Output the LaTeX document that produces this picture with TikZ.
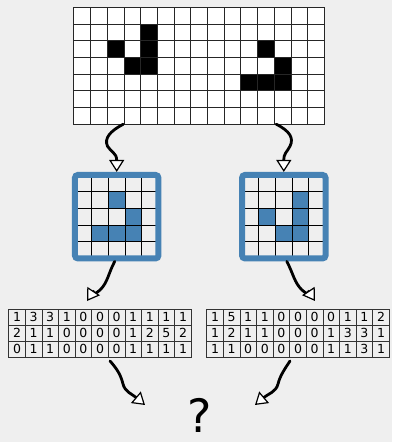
\documentclass[tikz,border=0pt]{standalone}
\usepackage{fontspec}
\usetikzlibrary{arrows.meta,matrix}
\newfontfamily\dejavu{DejaVu Sans}
\definecolor{steel}{RGB}{70,130,180}
\definecolor{paper}{RGB}{239,239,239}
\newcommand{\csize}{16.7}

\begin{document}
\begin{tikzpicture}[x=1pt,y=1pt,
  >={Triangle[length=12pt,width=15pt,fill=white,line width=1.2pt]},
  flow/.style={->,line width=2.8pt,line cap=round},
  gridline/.style={draw=black!85,line width=0.8pt},
  frame/.style={draw=steel,line width=6pt,rounded corners=3pt},
  patch/.style={minimum size=83.5pt,inner sep=0pt,outer sep=3pt},
  num/.style={draw=black!80,line width=0.7pt,minimum width=16.6pt,minimum height=16pt,
    inner sep=0pt,font=\dejavu\fontsize{12.5}{12.5}\selectfont}]
  \fill[paper] (0,0) rectangle (392,442);
  \useasboundingbox (0,0) rectangle (392,442);

  % big board with two gliders
  \node[minimum width=250.5pt,minimum height=117pt,inner sep=0pt] (board) at (199.25,376.5) {};
  \begin{scope}[shift={(board.south west)}]
    \fill[white] (0,0) rectangle (250.5,117);
    \foreach \c/\r in {4/5,2/4,4/4,3/3,4/3,11/4,12/3,10/2,11/2,12/2}
      \fill (\c*\csize,\r*\csize) rectangle +(\csize,\csize);
    \draw[gridline] (0,0) grid[step=16.7pt] (250.6,117.1);
    \draw[gridline] (0,0) rectangle (250.5,117);
  \end{scope}

  % the two 5x5 patches
  \node[patch] (lbox) at (116.7,225.3) {};
  \node[patch] (rbox) at (283.8,225.3) {};
  \foreach \b/\cells in {lbox/{2/3,3/2,1/1,2/1,3/1},rbox/{3/3,1/2,3/2,2/1,3/1}}{
    \begin{scope}[shift={(\b.center)},shift={(-41.75,-41.75)}]
      \foreach \c/\r in \cells
        \fill[steel] (\c*\csize,\r*\csize) rectangle +(\csize,\csize);
      \draw[gridline,draw=black] (0,0) grid[step=16.7pt] (83.6,83.6);
      \draw[frame] (0,0) rectangle (83.5,83.5);
    \end{scope}
  }

  % counts
  \matrix (ltab) [matrix of nodes,nodes=num,column sep=-0.7pt,row sep=-0.7pt] at (100,109) {
    1 & 3 & 3 & 1 & 0 & 0 & 0 & 1 & 1 & 1 & 1 \\
    2 & 1 & 1 & 0 & 0 & 0 & 0 & 1 & 2 & 5 & 2 \\
    0 & 1 & 1 & 0 & 0 & 0 & 0 & 1 & 1 & 1 & 1 \\
  };
  \matrix (rtab) [matrix of nodes,nodes=num,column sep=-0.7pt,row sep=-0.7pt] at (298,109) {
    1 & 5 & 1 & 1 & 0 & 0 & 0 & 0 & 1 & 1 & 2 \\
    1 & 2 & 1 & 1 & 0 & 0 & 0 & 1 & 3 & 3 & 1 \\
    1 & 1 & 0 & 0 & 0 & 0 & 0 & 1 & 1 & 3 & 1 \\
  };

  \node[font=\dejavu\fontsize{46}{46}\selectfont,inner sep=0pt] (q) at (200,27) {?};
  \coordinate (qleft) at ([shift={(-55,10)}]q.center);
  \coordinate (qright) at ([shift={(55,10)}]q.center);

  % wiggly arrows
  \draw[flow] ([xshift=-76pt]board.south) .. controls +(-13.25,-7) and +(-3.5,8) .. ++(-15.75,-22)
    .. controls +(3.5,-6) and +(0,19) .. (lbox.north);
  \draw[flow] ([xshift=77pt]board.south) .. controls +(13.75,-7) and +(4,8) .. ++(13.75,-22)
    .. controls +(-3,-6) and +(0,19) .. (rbox.north);
  \draw[flow] ([xshift=-2pt]lbox.south) .. controls +(-6.7,-12.6) and +(8,8) .. ++(-14.7,-28.6)
    .. controls +(-4,-4) and +(4,6) .. ([shift={(-13,4)}]ltab.north);
  \draw[flow] ([xshift=3pt]rbox.south) .. controls +(6.7,-12.6) and +(-8,8) .. ++(15.2,-28.6)
    .. controls +(4,-4) and +(-4,6) .. ([shift={(17,4)}]rtab.north);
  \draw[flow] ([xshift=10pt]ltab.south) .. controls +(8,-9) and +(-2,8) .. ++(13,-23)
    .. controls +(2,-8) and +(-13,11) .. (qleft);
  \draw[flow] ([xshift=-8pt]rtab.south) .. controls +(-6,-9) and +(2,8) .. ++(-12,-23)
    .. controls +(-2,-8) and +(13,11) .. (qright);
\end{tikzpicture}
\end{document}
